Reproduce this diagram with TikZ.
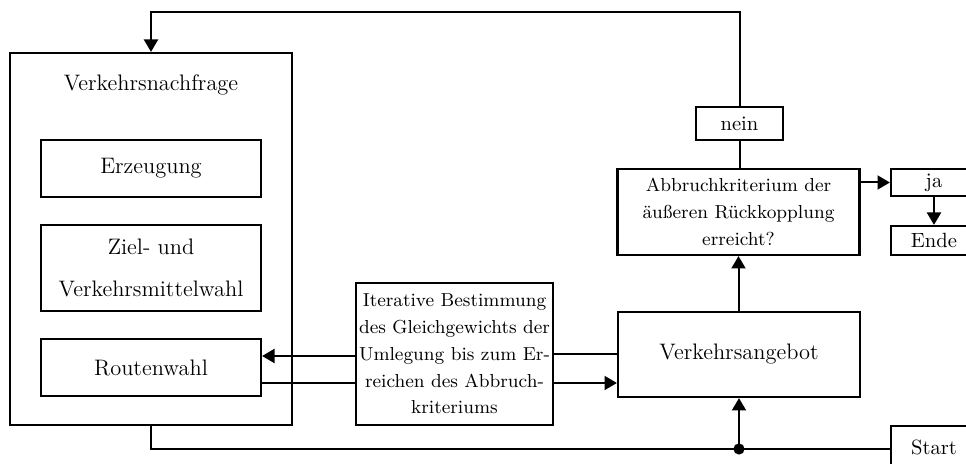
\documentclass[tikz,border=0pt]{standalone}
\usetikzlibrary{arrows.meta}
\newcommand{\grosstext}{\fontsize{11.2}{21}\selectfont}
\newcommand{\mitteltext}{\fontsize{10.3}{12}\selectfont}
\newcommand{\kleintext}{\fontsize{9.4}{13.4}\selectfont}
\begin{document}
\begin{tikzpicture}[x=0.5pt,y=-0.5pt,
  kasten/.style={draw,line width=1.1pt,inner sep=0pt,align=center},
  linie/.style={line width=1pt},
  pfeil/.style={line width=1pt,-{Triangle[length=6.2pt,width=7pt]}}]
\clip (0,0) rectangle (966,464);

% Nachfrageseite
\node[kasten,minimum width=141pt,minimum height=186pt] (nachfrage) at (151,239) {};
\node[font=\grosstext] (titel) at (151,85) {Verkehrsnachfrage};
\node[kasten,font=\grosstext,minimum width=110pt,minimum height=28.5pt] (erzeugung) at (151,168.5) {Erzeugung};
\node[kasten,font=\grosstext,minimum width=110pt,minimum height=43pt] (ziel) at (151,268) {Ziel- und\\Verkehrsmittelwahl};
\node[kasten,font=\grosstext,minimum width=110pt,minimum height=28.5pt] (route) at (151,367.5) {Routenwahl};

% Umlegung und Angebot
\node[kasten,font=\kleintext,minimum width=98.5pt,minimum height=71pt] (iter) at (454.5,354)
  {Iterative Bestimmung\\des Gleichgewichts der\\Umlegung bis zum Er-\\reichen des Abbruch-\\kriteriums};
\node[kasten,font=\grosstext,minimum width=121pt,minimum height=42.5pt] (angebot) at (739,354.5) {Verkehrsangebot};

% Abbruchpruefung
\node[kasten,font=\kleintext,minimum width=121pt,minimum height=43pt] (abbruch) at (738.5,212)
  {Abbruchkriterium der\\äußeren Rückkopplung\\erreicht?};
\node[kasten,font=\mitteltext,minimum width=43.5pt,minimum height=16.5pt] (nein) at (739.5,123.5) {nein};
\node[kasten,font=\mitteltext,minimum width=43pt,minimum height=13.5pt] (ja) at (934,182.5) {ja};
\node[kasten,font=\mitteltext,minimum width=43pt,minimum height=14.5pt] (ende) at (934,240.5) {Ende};
\node[kasten,font=\mitteltext,minimum width=43pt,minimum height=21pt] (start) at (934,447) {Start};

% Hilfspunkte
\coordinate (oben) at (739.5,12);
\coordinate (unten) at (151,449);
\coordinate (knoten) at (739,449);

% Verbindungen
\draw[pfeil] (nein.north) -- (oben) -| (nachfrage.north);
\draw[linie] (abbruch.north -| nein) -- (nein.south);
\draw[pfeil] (angebot.north -| abbruch) -- (abbruch.south);
\draw[pfeil] (abbruch.east |- ja.west) -- (ja.west);
\draw[pfeil] (ja.south) -- (ende.north);

\draw[linie] (angebot.west |- 0,354) -- (iter.east |- 0,354);
\draw[pfeil] (iter.west |- 0,356) -- (route.east |- 0,356);
\draw[linie] (route.east |- 0,383) -- (iter.west |- 0,383);
\draw[pfeil] (iter.east |- 0,383) -- (angebot.west |- 0,383);

\draw[linie] (nachfrage.south) -- (unten) -- (knoten);
\draw[linie] (start.west |- knoten) -- (knoten);
\draw[pfeil] (knoten) -- (angebot.south);
\fill (knoten) circle (2.8pt);
\end{tikzpicture}
\end{document}
